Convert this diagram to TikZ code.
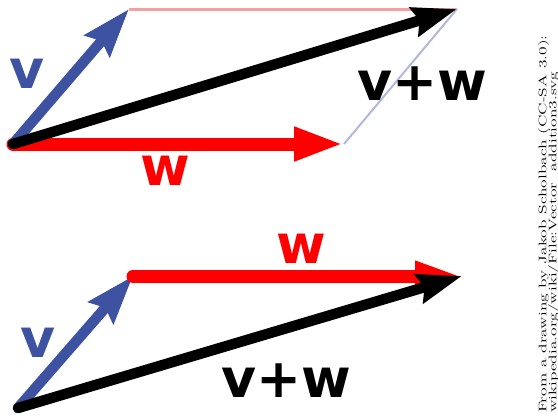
\documentclass[tikz,border=0pt]{standalone}
\usepackage{fontspec}
\newfontfamily\labfont{DejaVu Sans}
\usetikzlibrary{arrows.meta}
\definecolor{vblue}{RGB}{61,82,161}
\definecolor{wred}{RGB}{255,0,0}
\definecolor{pinkl}{RGB}{244,160,160}
\definecolor{lbl}{RGB}{176,185,220}
\tikzset{
  bluearrow/.style={draw=vblue, line width=10.5bp, line cap=round, -{Stealth[length=48bp,width=32bp,inset=6bp]}},
  redarrow/.style={draw=wred, line width=13bp, line cap=round, -{Triangle[length=50bp,width=31bp]}},
  redarrowb/.style={draw=wred, line width=13bp, line cap=round, -{Triangle[length=47bp,width=27bp]}},
  blackarrow/.style={draw=black, line width=10.5bp, line cap=round, -{Stealth[length=44bp,width=29bp,inset=5bp]}},
  lab/.style={font=\labfont\bfseries\fontsize{54}{54}\selectfont, anchor=base, inner sep=0pt},
}
\begin{document}
\begin{tikzpicture}[x=1bp,y=-1bp]
\useasboundingbox (0,0) rectangle (558,418);
% top figure
\coordinate (O1) at (13,144);
\coordinate (V1) at (129,9);
\coordinate (W1) at (344,144);
\coordinate (S1) at (457,9);
\draw[pinkl, line width=3bp] (V1) -- (S1);
\draw[lbl, line width=2bp] (W1) -- (S1);
\draw[redarrow] (O1) -- (W1);
\draw[bluearrow] (O1) -- (V1);
\draw[blackarrow] (O1) -- (S1);
\node[lab, text=vblue] (lv1) at (27,88) {v};
\node[lab, text=wred] (lw1) at (165,185) {w};
\node[lab, text=black] (ls1) at (422,100) {v+w};
% bottom figure
\coordinate (O2) at (18,408);
\coordinate (V2) at (133,276);
\coordinate (S2) at (462,276);
\draw[bluearrow] (O2) -- (V2);
\draw[redarrowb] (V2) -- (S2);
\draw[blackarrow] (O2) -- (S2);
\node[lab, text=vblue] (lv2) at (38,357) {v};
\node[lab, text=wred] (lw2) at (301,263) {w};
\node[lab, text=black] (ls2) at (286,397) {v+w};
% attribution
\node[rotate=90, anchor=north west, inner sep=0pt] (attr) at (538,413)
  {\scalebox{1.6}[1]{\fontsize{11}{11}\selectfont\begin{tabular}{@{}l@{}}From a drawing by Jakob Scholbach (CC-SA 3.0):\\[-1.5pt] wikipedia.org/wiki/File:Vector\ \ addition3.svg\end{tabular}}};
\end{tikzpicture}
\end{document}
